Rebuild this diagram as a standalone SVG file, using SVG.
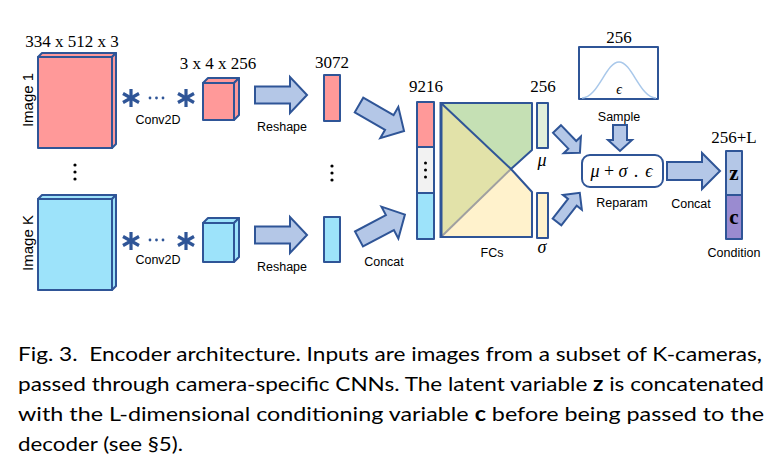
<svg xmlns="http://www.w3.org/2000/svg" width="778" height="465" viewBox="0 0 778 465">
<defs>
<style>
.bd{stroke:#2f5597;stroke-width:2;stroke-linejoin:round}
.red{fill:#ff9999}
.blu{fill:#9de3fa}
.arr{fill:#b4c7e7;stroke:#2f5597;stroke-width:2;stroke-linejoin:miter}
.num{font-family:"Liberation Serif",serif;font-size:17px;fill:#000;text-anchor:middle}
.lab{font-family:"Liberation Sans",Arial,sans-serif;font-size:12.5px;fill:#000;text-anchor:middle}
.rot{font-family:"Liberation Sans",Arial,sans-serif;font-size:15px;fill:#000;text-anchor:middle}
.math{font-family:"Liberation Serif",serif;font-style:italic;font-size:18px;fill:#000;text-anchor:middle}
.cap{font-family:Lato,"Liberation Sans",sans-serif;font-size:20px;fill:#000}
.ast{stroke:#2f5597;stroke-width:3.2;stroke-linecap:butt}
.dot{fill:#2f5597}
.bdot{fill:#000}
</style>
<path id="bigArrow" d="M0,-8.5 L35,-8.5 L35,-18 L52,0 L35,18 L35,8.5 L0,8.5 Z"/>
<g id="asterisk">
<line class="ast" x1="0" y1="-9" x2="0" y2="9"/>
<line class="ast" x1="-8" y1="-4.5" x2="8" y2="4.5"/>
<line class="ast" x1="-8" y1="4.5" x2="8" y2="-4.5"/>
</g>
</defs>
<rect width="778" height="465" fill="#fff"/>

<g id="image1">
<text class="num" x="72" y="47">334 x 512 x 3</text>
<polygon class="red bd" points="38,57 42,53 116,53 112,57"/>
<polygon class="red bd" points="112,57 116,53 116,144 112,148"/>
<rect class="red bd" x="38" y="57" width="74" height="91"/>
<text class="rot" transform="translate(33,100) rotate(-90)">Image 1</text>
</g>

<g id="vdots-left">
<circle class="bdot" cx="75" cy="165" r="1.6"/>
<circle class="bdot" cx="75" cy="172" r="1.6"/>
<circle class="bdot" cx="75" cy="179" r="1.6"/>
</g>

<g id="imageK">
<polygon class="blu bd" points="38,199 42,195 116,195 112,199"/>
<polygon class="blu bd" points="112,199 116,195 116,286 112,290"/>
<rect class="blu bd" x="38" y="199" width="74" height="91"/>
<text class="rot" transform="translate(33,243) rotate(-90)">Image K</text>
</g>

<g id="conv1">
<use href="#asterisk" x="131" y="98"/>
<circle class="dot" cx="150" cy="98" r="1.4"/>
<circle class="dot" cx="156.5" cy="98" r="1.4"/>
<circle class="dot" cx="163" cy="98" r="1.4"/>
<use href="#asterisk" x="186" y="98"/>
<text class="lab" x="158" y="124">Conv2D</text>
</g>

<g id="convK">
<use href="#asterisk" x="131" y="241"/>
<circle class="dot" cx="150" cy="240" r="1.4"/>
<circle class="dot" cx="156.5" cy="240" r="1.4"/>
<circle class="dot" cx="163" cy="240" r="1.4"/>
<use href="#asterisk" x="186" y="241"/>
<text class="lab" x="158" y="264">Conv2D</text>
</g>

<g id="feat1">
<text class="num" x="218" y="69">3 x 4 x 256</text>
<polygon class="red bd" points="203,83 208,78 239,78 234,83"/>
<polygon class="red bd" points="234,83 239,78 239,115 234,120"/>
<rect class="red bd" x="203" y="83" width="31" height="37"/>
</g>

<g id="featK">
<polygon class="blu bd" points="203,223 208,218 239,218 234,223"/>
<polygon class="blu bd" points="234,223 239,218 239,257 234,262"/>
<rect class="blu bd" x="203" y="223" width="31" height="39"/>
</g>

<g id="vec1">
<text class="num" x="332" y="68">3072</text>
<rect class="red bd" x="324" y="75" width="16" height="46"/>
</g>

<g id="vdots-mid">
<circle class="bdot" cx="332" cy="166" r="1.6"/>
<circle class="bdot" cx="332" cy="173" r="1.6"/>
<circle class="bdot" cx="332" cy="180" r="1.6"/>
</g>

<g id="vecK">
<rect class="blu bd" x="324" y="217" width="16" height="45"/>
</g>

<g id="concat9216">
<text class="num" x="426" y="92">9216</text>
<rect class="red bd" x="417" y="102" width="17" height="45"/>
<rect class="bd" fill="#f2f2f2" x="417" y="147" width="17" height="46"/>
<circle class="bdot" cx="425.5" cy="163" r="1.5"/>
<circle class="bdot" cx="425.5" cy="170" r="1.5"/>
<circle class="bdot" cx="425.5" cy="177" r="1.5"/>
<rect class="blu bd" x="417" y="193" width="17" height="46"/>
</g>

<g id="fcs">
<polygon fill="#c5e0b4" points="441,103 532,103 532,150 511,169"/>
<polygon fill="#fff2cc" points="441,237 511,169 532,192 532,237"/>
<polygon fill="#e2e2a9" points="441,103 511,169 441,237"/>
<line x1="441" y1="237" x2="511" y2="169" stroke="#a0a0a0" stroke-width="2"/>
<line x1="441" y1="103" x2="511" y2="169" stroke="#2f5597" stroke-width="2"/>
<path class="bd" fill="none" d="M441,103 L532,103 L532,150 L511,169 L532,192 L532,237 L441,237 Z"/>
<line x1="441" y1="102" x2="441" y2="238" stroke="#2f5597" stroke-width="3"/>
<text class="lab" x="492" y="257">FCs</text>
</g>

<g id="mu">
<text class="num" x="543" y="92">256</text>
<rect class="bd" fill="#e2efda" x="537" y="103" width="11" height="45"/>
<text class="math" x="542" y="166">μ</text>
</g>

<g id="sigma">
<rect class="bd" fill="#fff2cc" x="537" y="193" width="11" height="45"/>
<text class="math" x="542" y="253">σ</text>
</g>

<g id="sample">
<text class="num" x="619" y="43">256</text>
<rect class="bd" fill="#fff" x="579" y="47" width="79" height="52"/>
<path d="M582,98 C598,98 606,62 619,62 C632,62 640,98 656,98" fill="none" stroke="#a9c8ea" stroke-width="1.5"/>
<text x="619" y="94" font-family="Liberation Serif,serif" font-style="italic" font-size="14" text-anchor="middle">ϵ</text>
<text class="lab" x="619" y="121">Sample</text>
</g>

<g id="reparam">
<rect class="bd" fill="#fff" x="582" y="155" width="81" height="32" rx="8"/>
<text y="177" font-family="Liberation Serif,serif" font-size="18" text-anchor="middle"><tspan x="595" font-style="italic">μ</tspan><tspan x="609">+</tspan><tspan x="623" font-style="italic">σ</tspan><tspan x="636">.</tspan><tspan x="649" font-style="italic">ϵ</tspan></text>
<text class="lab" x="622" y="207">Reparam</text>
</g>

<g id="condition">
<text class="num" x="734" y="143">256+L</text>
<rect class="bd" fill="#b4c7e7" x="726" y="151" width="16" height="44"/>
<rect class="bd" fill="#9a8bd0" x="726" y="195" width="16" height="44"/>
<text x="734" y="180" font-family="Liberation Serif,serif" font-weight="bold" font-size="21" text-anchor="middle">z</text>
<text x="734" y="224" font-family="Liberation Serif,serif" font-weight="bold" font-size="21" text-anchor="middle">c</text>
<text class="lab" x="734" y="257">Condition</text>
</g>

<g id="connectors">
<use href="#bigArrow" class="arr" transform="translate(255,95)"/>
<text class="lab" x="282" y="131">Reshape</text>
<use href="#bigArrow" class="arr" transform="translate(255,235)"/>
<text class="lab" x="282" y="271">Reshape</text>
<use href="#bigArrow" class="arr" transform="translate(359,105) rotate(30)"/>
<use href="#bigArrow" class="arr" transform="translate(359,239) rotate(-28)"/>
<text class="lab" x="384" y="266">Concat</text>
<path class="arr" transform="translate(557,129) rotate(46)" d="M0,-5.5 L22,-5.5 L22,-12 L33,0 L22,12 L22,5.5 L0,5.5 Z"/>
<path class="arr" transform="translate(557,222) rotate(-52)" d="M0,-5.5 L25,-5.5 L25,-12 L37,0 L25,12 L25,5.5 L0,5.5 Z"/>
<path class="arr" d="M613,125 L627,125 L627,140 L632,140 L620,151 L608,140 L613,140 Z"/>
<path class="arr" d="M667,162 L702,162 L702,153 L720,171 L702,189 L702,180 L667,180 Z"/>
<text class="lab" x="691" y="208">Concat</text>
</g>

<g id="caption">
<text class="cap" x="18" y="361" textLength="744" lengthAdjust="spacingAndGlyphs" style="white-space:pre">Fig. 3.  Encoder architecture. Inputs are images from a subset of K-cameras,</text>
<text class="cap" x="18" y="391" textLength="746" lengthAdjust="spacingAndGlyphs">passed through camera-specific CNNs. The latent variable <tspan font-weight="bold">z</tspan> is concatenated</text>
<text class="cap" x="18" y="421" textLength="746" lengthAdjust="spacingAndGlyphs">with the L-dimensional conditioning variable <tspan font-weight="bold">c</tspan> before being passed to the</text>
<text class="cap" x="18" y="451" textLength="165" lengthAdjust="spacingAndGlyphs">decoder (see §5).</text>
</g>
</svg>
